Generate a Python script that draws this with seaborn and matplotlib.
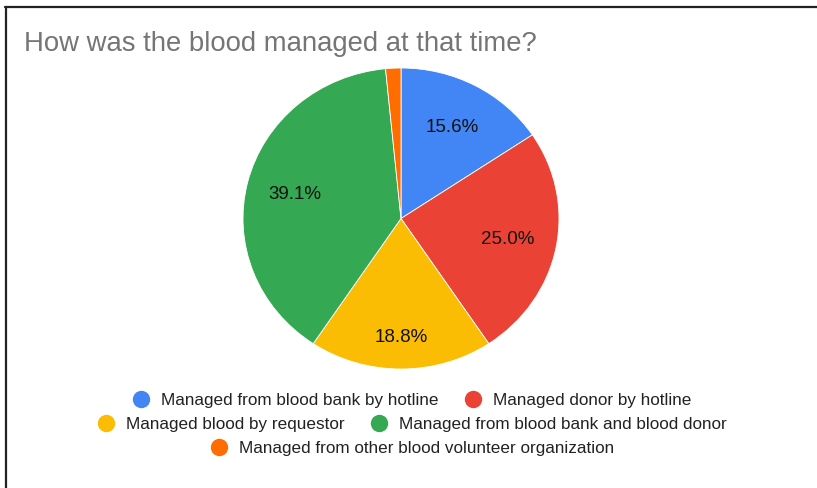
import matplotlib
matplotlib.use("Agg")
import matplotlib.pyplot as plt
from matplotlib.lines import Line2D
import seaborn as sns

# ── Data ─────────────────────────────────────────────────────────────────────
TITLE = "How was the blood managed at that time?"
CATEGORIES = [
    "Managed from blood bank by hotline",
    "Managed donor by hotline",
    "Managed blood by requestor",
    "Managed from blood bank and blood donor",
    "Managed from other blood volunteer organization",
]
COUNTS = [10, 16, 12, 25, 1]
COLORS = ["#4285f4", "#ea4335", "#fbbc04", "#34a853", "#ff6d01"]
LEGEND_ROWS = [[0, 1], [2, 3], [4]]

sns.set_theme(style="white")
plt.rcParams["font.family"] = ["Liberation Sans", "DejaVu Sans"]

W, H = 817, 489
fig = plt.figure(figsize=(W / 100, H / 100), dpi=100)
fig.patch.set_facecolor("white")

# pie centre (401, 219.5) px; the screenshot is slightly stretched sideways
cx, cy, rx, ry = 401, 219.5, 158, 150.5
ax = fig.add_axes([(cx - rx) / W, (H - cy - ry) / H, 2 * rx / W, 2 * ry / H])
ax.set_facecolor("white")


def fmt(p):
    return f"{p:.1f}%" if p > 5 else ""


wedges, texts, autotexts = ax.pie(
    COUNTS, colors=COLORS, startangle=90, counterclock=False,
    autopct=fmt, pctdistance=0.69, radius=1,
    wedgeprops=dict(edgecolor="white", linewidth=0.6),
    textprops=dict(fontsize=13.5, color="#111111"))
ax.set_xlim(-1, 1)
ax.set_ylim(-1, 1)
ax.set_aspect("auto")
ax.axis("off")

# the bottom label sits a bit further out in the reference
x, y = autotexts[2].get_position()
autotexts[2].set_position((x * 1.14, y * 1.14))

# title
fig.text(24 / W, 1 - 44 / H, TITLE, fontsize=19.8, color="#757575",
         va="center", ha="left")

# legend, one centred row at a time
row_y = [401, 425, 449]
for idxs, y in zip(LEGEND_ROWS, row_y):
    handles = [Line2D([], [], marker="o", linestyle="", markersize=11.5,
                      markerfacecolor=COLORS[i], markeredgecolor=COLORS[i],
                      label=CATEGORIES[i]) for i in idxs]
    fig.legend(handles=handles, loc="center", ncol=len(idxs),
               bbox_to_anchor=(412 / W, 1 - y / H), frameon=False,
               fontsize=12.3, labelcolor="#222222", handletextpad=0.67,
               columnspacing=1.5, handlelength=1.0, borderpad=0)

# frame lines (top and left edges of the screenshot)
fig.add_artist(Line2D([5 / W, 1], [1 - 8 / H, 1 - 8 / H], color="#222222",
                      linewidth=1.6, transform=fig.transFigure))
fig.add_artist(Line2D([6 / W, 6 / W], [0, 1 - 8 / H], color="#222222",
                      linewidth=1.6, transform=fig.transFigure))

fig.savefig("out.png", dpi=100, facecolor="white")
